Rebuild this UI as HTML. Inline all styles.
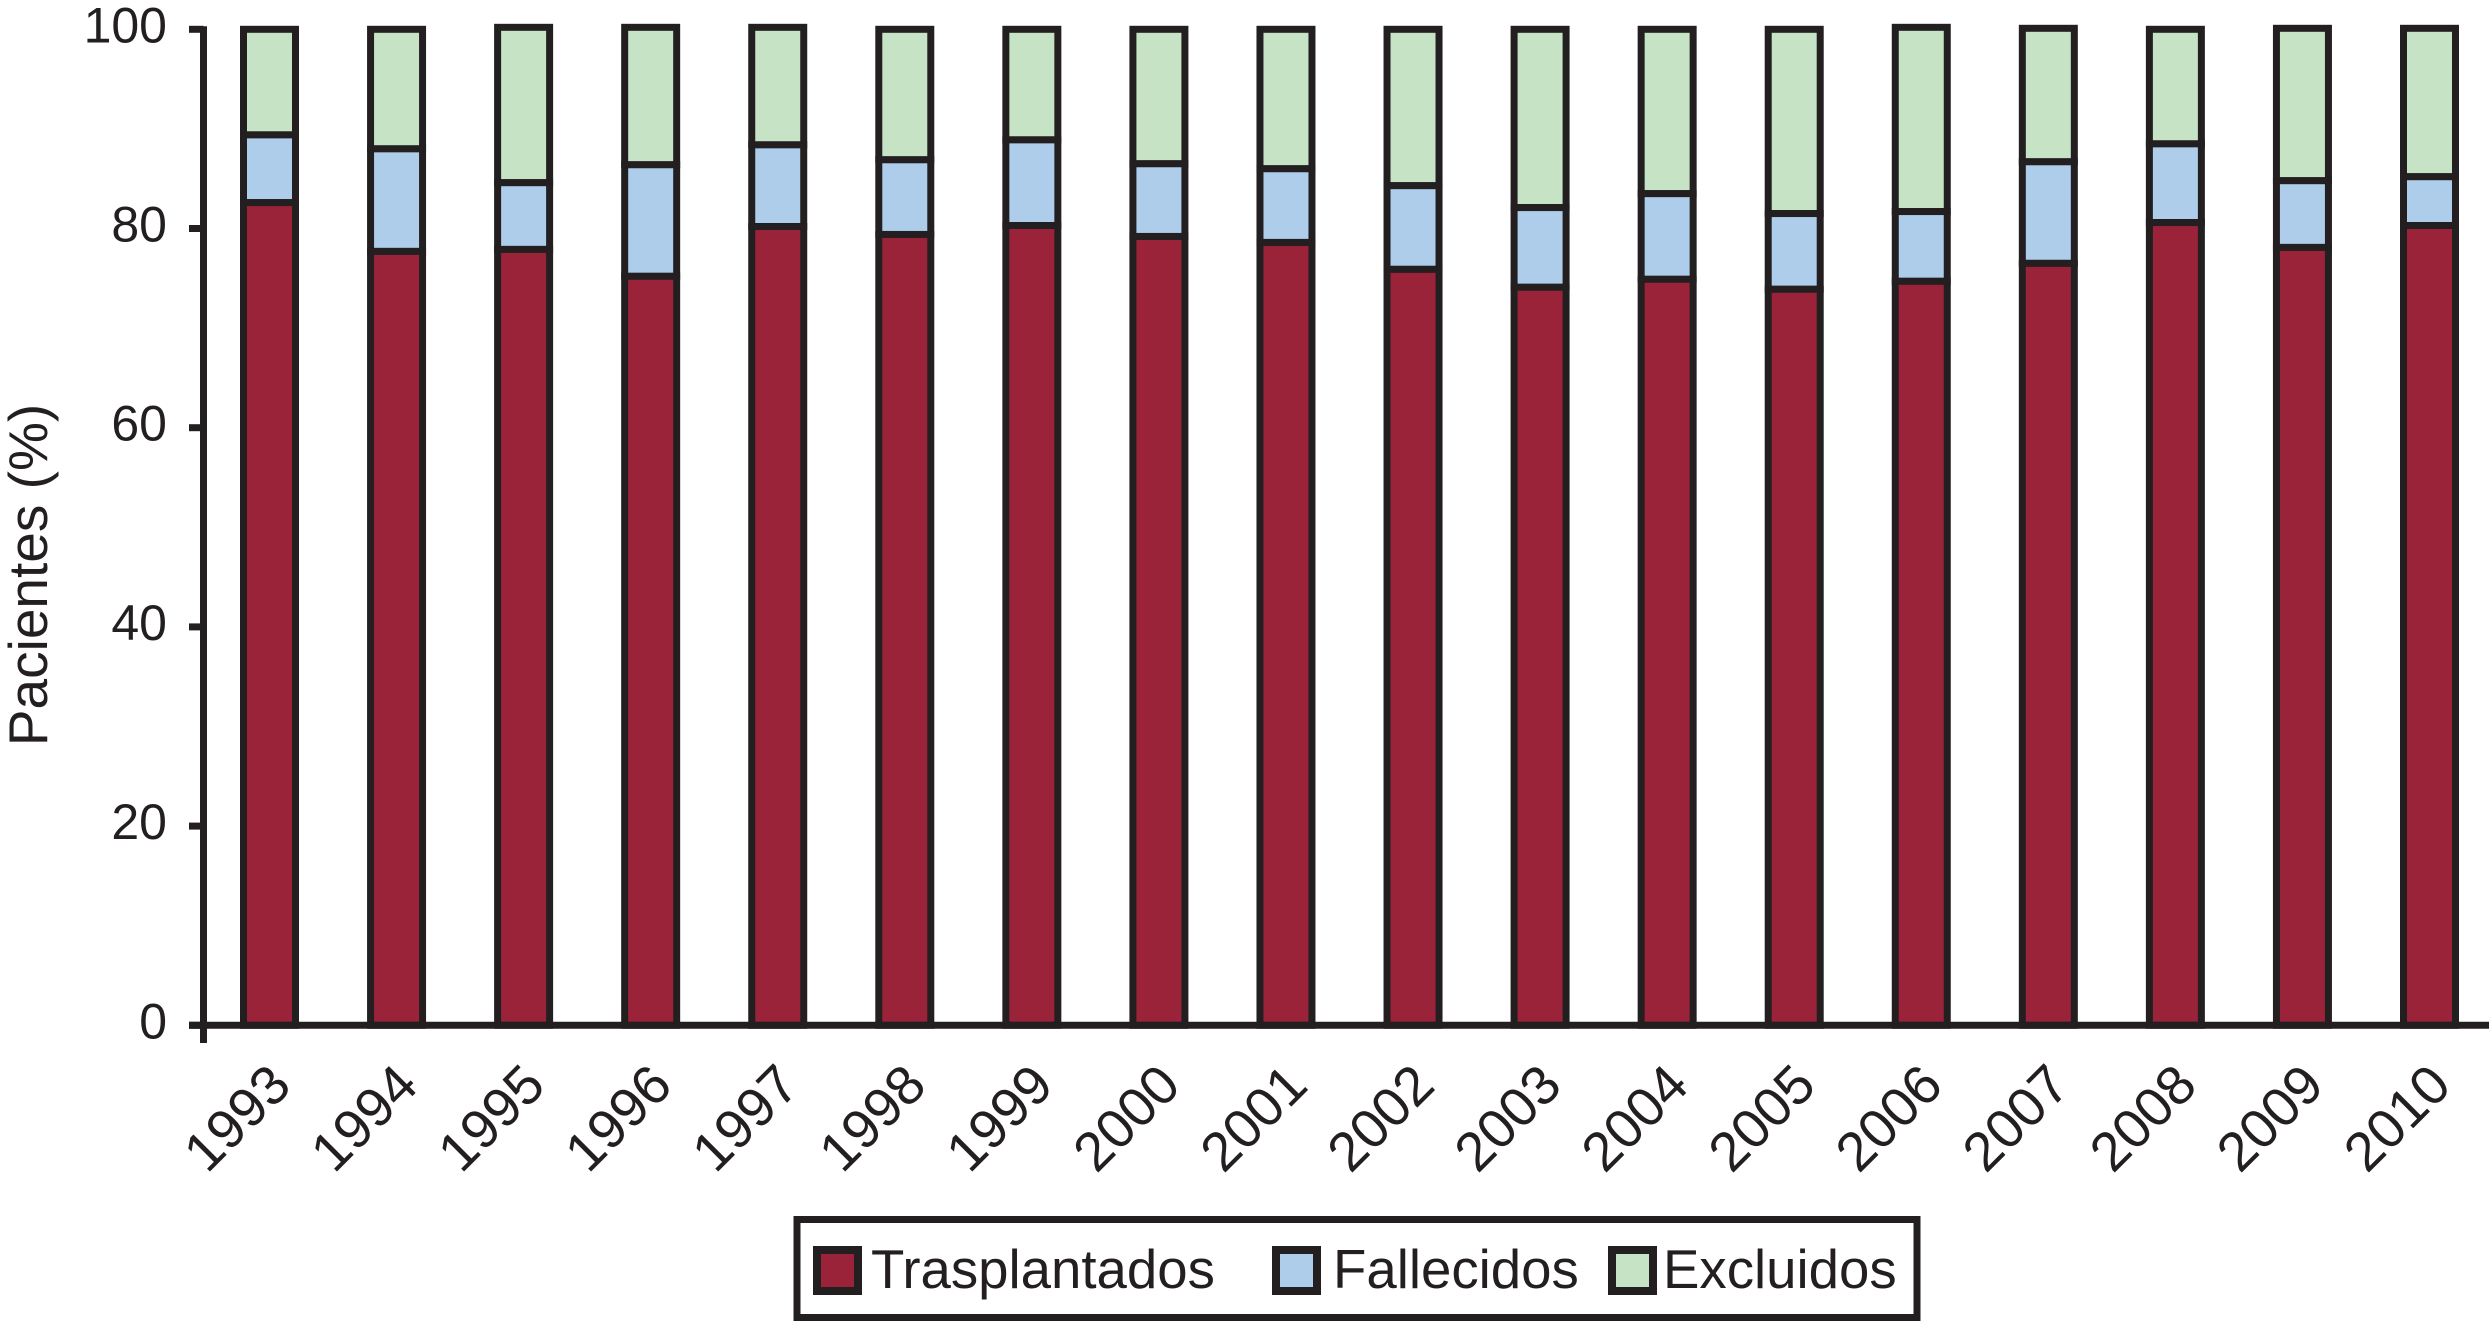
<!DOCTYPE html>
<html lang="es">
<head>
<meta charset="utf-8">
<title>Pacientes (%) por año</title>
<style>
html,body{margin:0;padding:0;background:#fff;}
svg{display:block;}
text{font-family:"Liberation Sans",Arial,sans-serif;fill:#231f20;}
</style>
</head>
<body>
<svg id="chart" width="2489" height="1321" viewBox="0 0 2489 1321" xmlns="http://www.w3.org/2000/svg">
  <rect x="0" y="0" width="2489" height="1321" fill="#ffffff"/>
  <g id="bars"></g>
  <g id="axes"></g>
  <text transform="translate(47,575) rotate(-90)" text-anchor="middle" font-size="55">Pacientes (%)</text>
  <g>
    <rect x="797" y="1219.5" width="1120" height="98" fill="#ffffff" stroke="#231f20" stroke-width="7"/>
    <rect x="817" y="1250" width="41" height="41" fill="#9b2339" stroke="#231f20" stroke-width="8"/>
    <text x="871" y="1288" font-size="54.6">Trasplantados</text>
    <rect x="1276" y="1250" width="41" height="41" fill="#adcdeb" stroke="#231f20" stroke-width="8"/>
    <text x="1333" y="1288" font-size="54.6">Fallecidos</text>
    <rect x="1612" y="1250" width="41" height="41" fill="#c6e3c5" stroke="#231f20" stroke-width="8"/>
    <text x="1663" y="1288" font-size="54.6">Excluidos</text>
  </g>
</svg>
<script>
const categories = ["1993","1994","1995","1996","1997","1998","1999","2000","2001","2002","2003","2004","2005","2006","2007","2008","2009","2010"];
const trasplantados = [82.6,77.7,77.9,75.2,80.2,79.4,80.3,79.2,78.6,75.9,74.1,74.9,73.9,74.7,76.5,80.6,78.1,80.3];
const fallecidos = [6.8,10.3,6.7,11.2,8.2,7.5,8.6,7.3,7.4,8.4,8.0,8.6,7.6,7.0,10.2,7.9,6.7,4.9];
const excluidos = [10.6,12.0,15.6,13.8,11.8,13.1,11.1,13.5,14.0,15.7,17.9,16.5,18.5,18.5,13.4,11.5,15.3,14.9];
const yTicks = [0,20,40,60,80,100];

const NS = 'http://www.w3.org/2000/svg';
const INK = '#231f20';
const plotLeft = 203.5, plotBottom = 1025.3, plotTop = 29.3;
const firstCenter = 269.5, lastCenter = 2429.5, barWidth = 52;

function yScale(v) { return plotBottom - (v / 100) * (plotBottom - plotTop); }
function xScale(i) { return firstCenter + i * (lastCenter - firstCenter) / (categories.length - 1); }
function make(tag, attrs, parent) {
  const el = document.createElementNS(NS, tag);
  for (const k in attrs) el.setAttribute(k, attrs[k]);
  parent.appendChild(el);
  return el;
}

const barsG = document.getElementById('bars');
const axesG = document.getElementById('axes');

categories.forEach(function (year, i) {
  const cx = xScale(i);
  const a = trasplantados[i], b = a + fallecidos[i], c = b + excluidos[i];
  const segments = [
    { from: b, to: c, fill: '#c6e3c5', key: 'excluidos' },
    { from: a, to: b, fill: '#adcdeb', key: 'fallecidos' },
    { from: 0, to: a, fill: '#9b2339', key: 'trasplantados' }
  ];
  segments.forEach(function (s) {
    const r = make('rect', {
      x: cx - barWidth / 2, y: yScale(s.to), width: barWidth, height: yScale(s.from) - yScale(s.to),
      fill: s.fill, stroke: INK, 'stroke-width': 7
    }, barsG);
    
    
  });
  const label = make('text', {
    transform: 'translate(' + (cx + 24) + ',1088) rotate(-45)',
    'text-anchor': 'end', 'font-size': 55
  }, axesG);
  label.textContent = year;
  
  
});

const yAxis = make('line', { x1: plotLeft, x2: plotLeft, y1: plotTop - 3, y2: 1043, stroke: INK, 'stroke-width': 7 }, axesG);



const xAxis = make('line', { x1: 189, x2: 2489, y1: plotBottom, y2: plotBottom, stroke: INK, 'stroke-width': 7 }, axesG);



yTicks.forEach(function (t) {
  const y = yScale(t);
  const tick = make('line', { x1: 189, x2: plotLeft, y1: y, y2: y, stroke: INK, 'stroke-width': 7 }, axesG);
  
  
  const label = make('text', { x: 167, y: y + 13, 'text-anchor': 'end', 'font-size': 50 }, axesG);
  label.textContent = String(t);
  
  
});
</script>
</body>
</html>
